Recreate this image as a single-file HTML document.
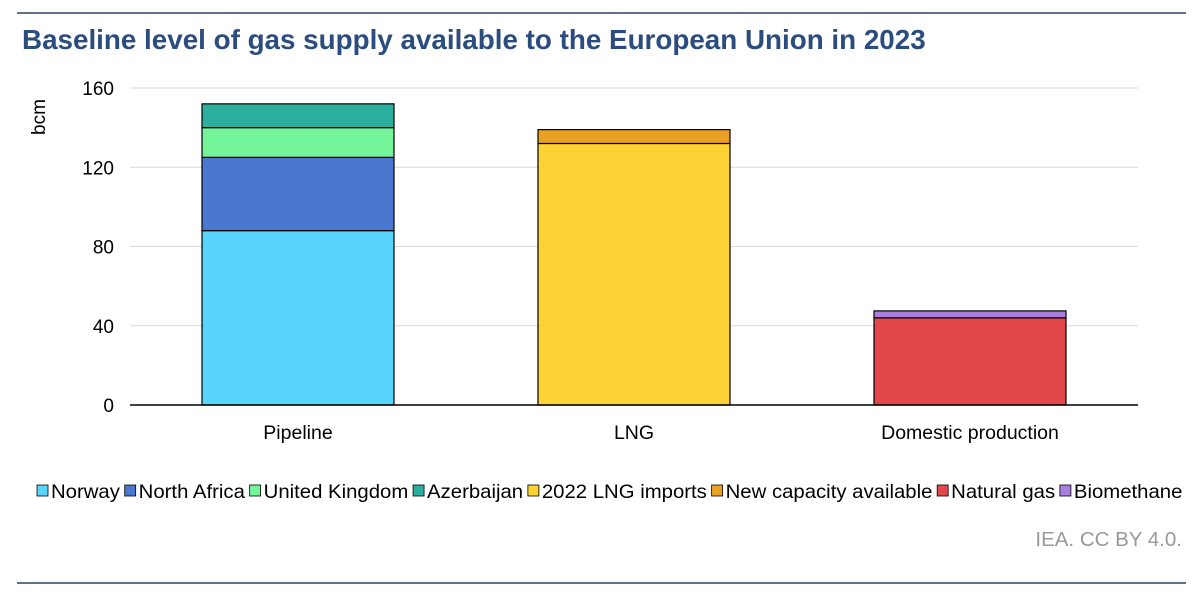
<!DOCTYPE html>
<html><head><meta charset="utf-8"><style>
body{margin:0;background:#fff;font-family:"Liberation Sans",sans-serif;}
svg text{font-family:"Liberation Sans",sans-serif;}
</style></head><body>
<svg id="c" width="1202" height="600" xmlns="http://www.w3.org/2000/svg">
<line x1="17" y1="13" x2="1186" y2="13" stroke="#2b4460" stroke-width="1.5"/>
<line x1="17" y1="583" x2="1186" y2="583" stroke="#2b4460" stroke-width="1.5"/>
<text x="22" y="49" font-size="27.8" font-weight="bold" fill="#2b4c7e">Baseline level of gas supply available to the European Union in 2023</text>
<text transform="translate(45,117) rotate(-90)" font-size="19" text-anchor="middle" fill="#000">bcm</text>
<g id="grid"></g><g id="bars"></g><g id="legend"></g>
<text x="1182" y="546" font-size="20.5" text-anchor="end" fill="#999">IEA. CC BY 4.0.</text>
</svg>
<script>
const categories=["Pipeline","LNG","Domestic production"];
const seriesNames=["Norway","North Africa","United Kingdom","Azerbaijan","2022 LNG imports","New capacity available","Natural gas","Biomethane"];
const seriesColors=["#57d5fc","#4a78d0","#74f59a","#2bb0a0","#fdd235","#eaa022","#e2474b","#a97fe0"];
const norway=[88,0,0];
const northAfrica=[37,0,0];
const unitedKingdom=[15,0,0];
const azerbaijan=[12,0,0];
const lng2022=[0,132,0];
const newCapacity=[0,7,0];
const naturalGas=[0,0,44];
const biomethane=[0,0,3.5];
const yTicks=[0,40,80,120,160];
const series=[norway,northAfrica,unitedKingdom,azerbaijan,lng2022,newCapacity,naturalGas,biomethane];
const NS="http://www.w3.org/2000/svg";
const x0=130,x1=1138,yBase=405,yTop=88,yMax=160;
const y=v=>yBase-(v/yMax)*(yBase-yTop);
const band=(x1-x0)/categories.length,bw=192;
const bx=i=>x0+band*i+(band-bw)/2;
function mk(t,a,p){const e=document.createElementNS(NS,t);for(const k in a)e.setAttribute(k,a[k]);p.appendChild(e);return e;}
const g=document.getElementById('grid');
yTicks.forEach(t=>{
 if(t>0){const l=mk('line',{x1:x0,x2:x1,y1:y(t),y2:y(t),stroke:'#d9d9d9','stroke-width':1},g);
 
 }
 const tx=mk('text',{x:114,y:y(t)+7,'font-size':19,'text-anchor':'end',fill:'#000'},g);tx.textContent=t;
 
 
});
const b=document.getElementById('bars');
categories.forEach((c,i)=>{
 let acc=0;
 series.forEach((s,j)=>{
  const v=s[i];if(!v)return;
  const r=mk('rect',{x:bx(i),y:y(acc+v),width:bw,height:y(acc)-y(acc+v),fill:seriesColors[j],stroke:'#000','stroke-width':1.2},b);
  
  
  acc+=v;
 });
 const t=mk('text',{x:bx(i)+bw/2,y:439,'font-size':19.5,'text-anchor':'middle',fill:'#000'},b);t.textContent=c;
 
 
});
const ax=mk('line',{x1:x0,x2:x1,y1:yBase,y2:yBase,stroke:'#000','stroke-width':1.5},b);


const lg=document.getElementById('legend');
let lx=37;
const items=[];
seriesNames.forEach((n,j)=>{
 const gr=mk('g',{},lg);
 
 
 const r=mk('rect',{x:lx,y:485,width:11,height:11,fill:seriesColors[j],stroke:'#000','stroke-width':0.8},gr);
 const t=mk('text',{x:lx+14,y:498,'font-size':19.5,fill:'#000'},gr);t.textContent=n;
 lx+=14+t.getComputedTextLength()+4;
 items.push([r,t]);
});
const over=(lx-4)-1183;
if(Math.abs(over)>2){
 const f=(1183-37)/(lx-4-37);
 items.forEach(([r,t])=>{
  const rx=37+(+r.getAttribute('x')-37)*f;r.setAttribute('x',rx);t.setAttribute('x',rx+14);
  t.setAttribute('textLength',t.getComputedTextLength()*f);t.setAttribute('lengthAdjust','spacingAndGlyphs');
 });
}
</script>
</body></html>
